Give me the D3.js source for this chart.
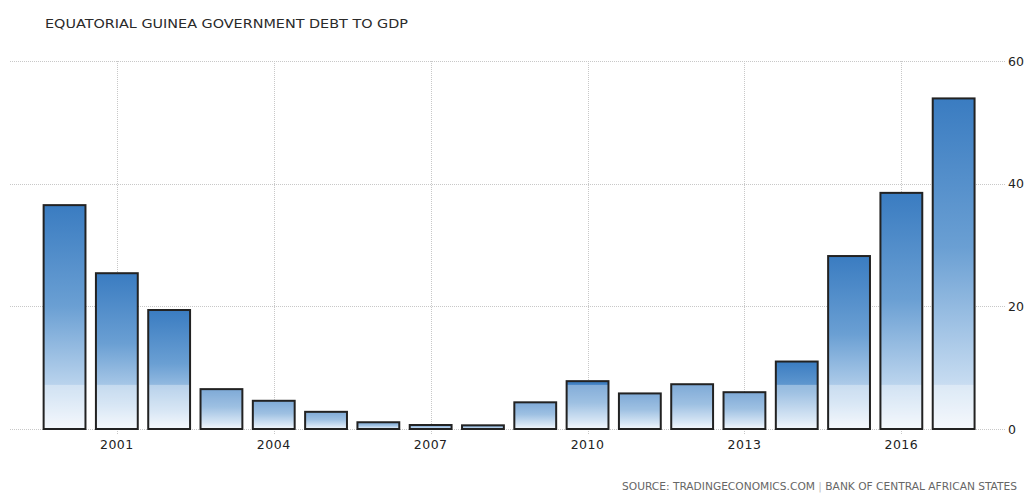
<!DOCTYPE html>
<html>
<head>
<meta charset="utf-8">
<script src="https://cdn.jsdelivr.net/npm/d3@7"></script>
<style>
  html, body { margin: 0; padding: 0; background: #ffffff; }
  svg { display: block; }
</style>
</head>
<body>
<svg id="chart" width="1027" height="501"></svg>
<script>
const years = [2000, 2001, 2002, 2003, 2004, 2005, 2006, 2007, 2008, 2009, 2010, 2011, 2012, 2013, 2014, 2015, 2016, 2017];
const debtToGdp = [36.5, 25.4, 19.4, 6.5, 4.6, 2.8, 1.1, 0.65, 0.6, 4.35, 7.8, 5.8, 7.3, 6.0, 11.0, 28.2, 38.5, 53.9];
const xTickYears = [2001, 2004, 2007, 2010, 2013, 2016];
const yTicks = [0, 20, 40, 60];
const titleText = "EQUATORIAL GUINEA GOVERNMENT DEBT TO GDP";
const sourceLeft = "SOURCE: TRADINGECONOMICS.COM";
const sourceRight = "BANK OF CENTRAL AFRICAN STATES";

const svg = d3.select("#chart");

const x = d3.scaleBand().domain(years).range([38.4, 979.8]).paddingInner(0.2).paddingOuter(0.1);
const y = d3.scaleLinear().domain([0, 60]).range([429, 61]);

const defs = svg.append("defs");
const grad = defs.append("linearGradient").attr("id", "barGrad")
  .attr("x1", 0).attr("y1", 0).attr("x2", 0).attr("y2", 1);
grad.append("stop").attr("offset", "0%").attr("stop-color", "#3a7cc1");
grad.append("stop").attr("offset", "45%").attr("stop-color", "#6a9fd3");
grad.append("stop").attr("offset", "85%").attr("stop-color", "#c4daf0");
grad.append("stop").attr("offset", "100%").attr("stop-color", "#f0f5fb");

// Title
svg.append("text")
  .attr("x", 45).attr("y", 28)
  .attr("font-family", "DejaVu Sans")
  .attr("font-size", 12.5)
  .attr("fill", "#2a2a2a")
  .attr("textLength", 363).attr("lengthAdjust", "spacingAndGlyphs")
  .text(titleText);

// Horizontal grid
const gGrid = svg.append("g");
gGrid.selectAll("line.h").data(yTicks).join("line")
  .attr("class", "h")
  .attr("x1", 10).attr("x2", 1005)
  .attr("y1", d => Math.round(y(d)) + 0.5).attr("y2", d => Math.round(y(d)) + 0.5)
  .attr("stroke", "#c8c8c8").attr("stroke-width", 1).attr("stroke-dasharray", "1,1");

// Vertical grid
gGrid.selectAll("line.v").data(xTickYears).join("line")
  .attr("class", "v")
  .attr("x1", d => Math.round(x(d) + x.bandwidth() / 2) + 0.5)
  .attr("x2", d => Math.round(x(d) + x.bandwidth() / 2) + 0.5)
  .attr("y1", y(60)).attr("y2", y(0) + 5)
  .attr("stroke", "#c8c8c8").attr("stroke-width", 1).attr("stroke-dasharray", "1,1");

// Bars
const fadeY = y(7.2);
const bars = svg.append("g");
bars.selectAll("rect.bar").data(years).join("rect")
  .attr("class", "bar")
  .attr("x", d => x(d))
  .attr("width", x.bandwidth())
  .attr("y", (d, i) => y(debtToGdp[i]))
  .attr("height", (d, i) => y(0) - y(debtToGdp[i]))
  .attr("fill", "url(#barGrad)");
// lighter bottom band (fixed in plot coords)
bars.selectAll("rect.fade").data(years).join("rect")
  .attr("class", "fade")
  .attr("x", d => x(d))
  .attr("width", x.bandwidth())
  .attr("y", (d, i) => Math.max(y(debtToGdp[i]), fadeY))
  .attr("height", (d, i) => y(0) - Math.max(y(debtToGdp[i]), fadeY))
  .attr("fill", "#ffffff").attr("fill-opacity", 0.35);
bars.selectAll("rect.outline").data(years).join("rect")
  .attr("class", "outline")
  .attr("x", d => x(d))
  .attr("width", x.bandwidth())
  .attr("y", (d, i) => y(debtToGdp[i]))
  .attr("height", (d, i) => y(0) - y(debtToGdp[i]))
  .attr("fill", "none")
  .attr("stroke", "#222").attr("stroke-width", 2);

// X axis labels
const xAxis = d3.axisBottom(x).tickValues(xTickYears).tickSize(0).tickPadding(0);
const gx = svg.append("g").attr("transform", `translate(0, ${y(0) + 11})`).call(xAxis);
gx.select(".domain").remove();
gx.selectAll("text")
  .attr("dy", "0.71em")
  .attr("font-family", "DejaVu Sans")
  .attr("font-size", 12.5)
  .attr("letter-spacing", 0.5)
  .attr("fill", "#222");

// Y axis labels (right)
const yAxis = d3.axisRight(y).tickValues(yTicks).tickSize(0).tickPadding(0).tickFormat(d3.format("d"));
const gy = svg.append("g").attr("transform", "translate(1008, 0)").call(yAxis);
gy.select(".domain").remove();
gy.selectAll("text")
  .attr("font-family", "DejaVu Sans")
  .attr("font-size", 12.5)
  .attr("fill", "#222");

// Source
const src = svg.append("text")
  .attr("x", 1017).attr("y", 490)
  .attr("text-anchor", "end")
  .attr("font-family", "DejaVu Sans Condensed, DejaVu Sans")
  .attr("font-size", 10)
  .attr("fill", "#666")
  .attr("textLength", 395).attr("lengthAdjust", "spacingAndGlyphs");
src.append("tspan").text(sourceLeft + " ");
src.append("tspan").attr("fill", "#bbb").text("|");
src.append("tspan").text(" " + sourceRight);
</script>
</body>
</html>
